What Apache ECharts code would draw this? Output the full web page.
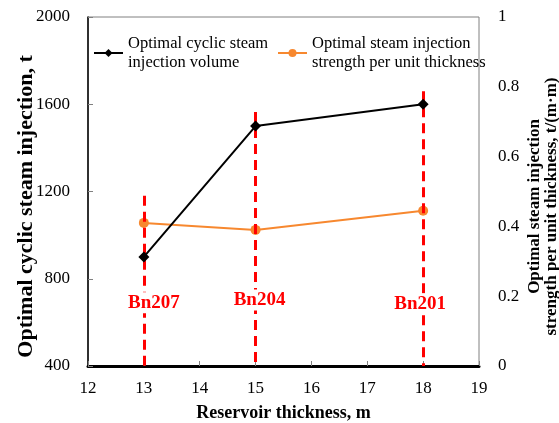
<!DOCTYPE html>
<html>
<head>
<meta charset="utf-8">
<script src="https://cdn.jsdelivr.net/npm/echarts@6/dist/echarts.min.js"></script>
<style>
  html, body { margin: 0; padding: 0; background: #fff; }
  #chart { width: 559px; height: 423px; }
</style>
</head>
<body>
<div id="chart"></div>
<script>
// Reservoir thickness (m) of each well
const thickness = [13, 15, 18];
// Optimal cyclic steam injection volume, t
const injectionVolume = [900, 1500, 1600];
// Optimal steam injection strength per unit thickness, t/(m·m)
const injectionStrength = [0.41, 0.39, 0.445];
// Well names and the extent of their marker lines (left-axis units)
const wellNames = ['Bn207', 'Bn204', 'Bn201'];
const wellLineTop = [1180, 1565, 1660];
const wellLabelLevel = [690, 703, 684];

const FONT = '"Liberation Serif", "Times New Roman", serif';
const volumeName = 'Optimal cyclic steam\ninjection volume';
const strengthName = 'Optimal steam injection\nstrength per unit thickness';

const labelShift = [10, 4, -3];

const chart = echarts.init(document.getElementById('chart'));
chart.setOption({
  animation: false,
  backgroundColor: '#fff',
  textStyle: { fontFamily: FONT },
  grid: {
    left: 88, right: 80, top: 17, bottom: 57,
    outerBoundsMode: 'none', containLabel: false,
    show: true, borderColor: '#808080', borderWidth: 1
  },
  legend: [
    {
      data: [volumeName], left: 88, top: 29, itemWidth: 29, itemHeight: 10,
      textStyle: { fontFamily: FONT, fontSize: 16.5, color: '#000', lineHeight: 19 }
    },
    {
      data: [strengthName], left: 272, top: 29, itemWidth: 29, itemHeight: 10,
      textStyle: { fontFamily: FONT, fontSize: 16.5, color: '#000', lineHeight: 19 }
    }
  ],
  xAxis: {
    type: 'value', min: 12, max: 19, interval: 1,
    name: 'Reservoir thickness, m', nameLocation: 'middle', nameGap: 38,
    nameMoveOverlap: false,
    nameTextStyle: { fontFamily: FONT, fontSize: 18, fontWeight: 'bold', color: '#000' },
    axisLine: { show: true, onZero: false, lineStyle: { color: '#000', width: 3 } },
    axisTick: { show: true, inside: true, length: 5, lineStyle: { color: '#808080', width: 1 } },
    axisLabel: { fontFamily: FONT, fontSize: 17, color: '#000', margin: 14 },
    splitLine: { show: false }
  },
  yAxis: [
    {
      type: 'value', min: 400, max: 2000, interval: 400, position: 'left',
      name: 'Optimal cyclic steam injection, t', nameLocation: 'middle', nameGap: 51,
      nameMoveOverlap: false,
      nameTextStyle: { fontFamily: FONT, fontSize: 22, fontWeight: 'bold', color: '#000', padding: [0, 30, 0, 0] },
      axisLine: { show: true, lineStyle: { color: '#000', width: 1.5 } },
      axisTick: { show: true, inside: true, length: 5, lineStyle: { color: '#808080', width: 1 } },
      axisLabel: { fontFamily: FONT, fontSize: 17, color: '#000', margin: 18, formatter: v => String(v) },
      splitLine: { show: false }
    },
    {
      type: 'value', min: 0, max: 1, interval: 0.2, position: 'right',
      name: 'Optimal steam injection\nstrength per unit thickness, t/(m·m)', nameLocation: 'middle', nameGap: 47,
      nameRotate: 90, nameMoveOverlap: false,
      nameTextStyle: { fontFamily: FONT, fontSize: 17, fontWeight: 'bold', color: '#000', lineHeight: 17, padding: [0, 30, 0, 0] },
      axisLine: { show: false },
      axisTick: { show: false },
      axisLabel: { fontFamily: FONT, fontSize: 17, color: '#000', margin: 19 },
      splitLine: { show: false }
    }
  ],
  series: [
    {
      name: volumeName, type: 'line', yAxisIndex: 0,
      data: thickness.map((t, i) => [t, injectionVolume[i]]),
      symbol: 'diamond', symbolSize: 11,
      itemStyle: { color: '#000' },
      lineStyle: { color: '#000', width: 2 },
      z: 5,
      markLine: {
        silent: true, symbol: 'none',
        lineStyle: { color: '#ff0000', width: 3, type: [10, 6], opacity: 1 },
        label: { show: false },
        data: thickness.map((t, i) => [{ coord: [t, wellLineTop[i]] }, { coord: [t, 400] }])
      },
      markPoint: {
        silent: true, symbol: 'rect', symbolSize: 0,
        data: thickness.map((t, i) => ({
          coord: [t, wellLabelLevel[i]],
          name: wellNames[i],
          label: {
            show: true, position: 'inside', formatter: wellNames[i],
            offset: [labelShift[i], 0],
            fontFamily: FONT, fontSize: 19, fontWeight: 'bold', color: '#ff0000',
            backgroundColor: '#fff', padding: [2, 1, 0, 1]
          }
        }))
      }
    },
    {
      name: strengthName, type: 'line', yAxisIndex: 1,
      data: thickness.map((t, i) => [t, injectionStrength[i]]),
      symbol: 'circle', symbolSize: 10,
      itemStyle: { color: '#f7882f' },
      lineStyle: { color: '#f7882f', width: 2 },
      z: 4
    }
  ]
});
</script>
</body>
</html>
